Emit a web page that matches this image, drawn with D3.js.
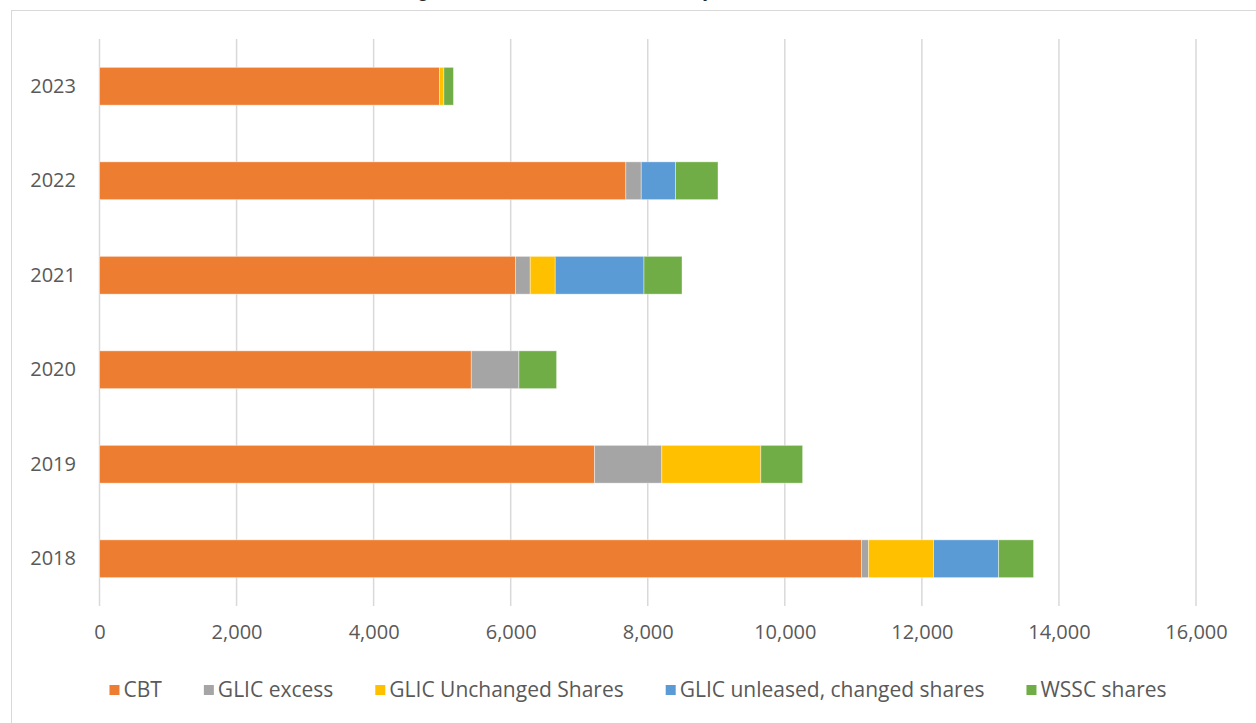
<!DOCTYPE html>
<html>
<head>
<meta charset="utf-8">
<script src="https://cdn.jsdelivr.net/npm/d3@7"></script>
<style>
  html, body { margin: 0; padding: 0; background: #fff; }
  svg { display: block; }
</style>
</head>
<body>
<svg id="chart" width="1256" height="723"></svg>
<script>
// Leased volumes by year, split by source
const years = ["2018", "2019", "2020", "2021", "2022", "2023"];
const cbt           = [11120, 7225, 5425, 6070, 7680, 4960];
const glicExcess    = [100,   980,  695,  215,  225,  0];
const glicUnchanged = [950,   1445, 0,    365,  0,    65];
const glicUnleased  = [950,   0,    0,    1295, 500,  0];
const wssc          = [510,   610,  550,  555,  620,  140];

const seriesNames = ["CBT", "GLIC excess", "GLIC Unchanged Shares", "GLIC unleased, changed shares", "WSSC shares"];
const seriesColors = ["#ED7D31", "#A5A5A5", "#FFC000", "#5B9BD5", "#70AD47"];
const xTicks = [0, 2000, 4000, 6000, 8000, 10000, 12000, 14000, 16000];
const titleText = "Total Leasing Amounts Under Each Share Class by Year";

const seriesValues = [cbt, glicExcess, glicUnchanged, glicUnleased, wssc];
const rows = years.map((yr, i) => {
  const r = { year: yr };
  seriesNames.forEach((name, s) => { r[name] = seriesValues[s][i]; });
  return r;
});

const svg = d3.select("#chart");
const font = "'Open Sans', 'Liberation Sans', sans-serif";
const textColor = "#595959";

// chart frame
svg.append("rect")
  .attr("x", 11.5).attr("y", 10.5)
  .attr("width", 1400).attr("height", 900)
  .attr("fill", "#fff").attr("stroke", "#d9d9d9").attr("stroke-width", 1);

// title (sits above the frame, mostly outside the page)
svg.append("text")
  .attr("x", 538).attr("y", -3)
  .attr("text-anchor", "middle")
  .attr("font-family", font).attr("font-weight", "bold")
  .attr("font-size", 15.7).attr("fill", "#262626")
  .text(titleText);

const plot = { left: 99.5, right: 1196, top: 39, bottom: 606 };

const x = d3.scaleLinear().domain([0, 16000]).range([plot.left, plot.right]);
const y = d3.scaleBand()
  .domain(years.slice().reverse())
  .range([plot.top, plot.bottom])
  .paddingInner(0.6).paddingOuter(0.3);

// vertical gridlines
svg.append("g").selectAll("line").data(xTicks).join("line")
  .attr("x1", d => x(d)).attr("x2", d => x(d))
  .attr("y1", plot.top).attr("y2", plot.bottom)
  .attr("stroke", "#d9d9d9").attr("stroke-width", 1.5);

// stacked bars
const stack = d3.stack().keys(seriesNames)(rows);
const layers = svg.append("g").selectAll("g").data(stack).join("g")
  .attr("fill", (d, i) => seriesColors[i]);
layers.selectAll("rect").data(d => d.filter(p => p[1] - p[0] > 0)).join("rect")
  .attr("x", d => x(d[0]))
  .attr("width", d => x(d[1]) - x(d[0]))
  .attr("y", d => y(d.data.year))
  .attr("height", y.bandwidth())
  .attr("stroke", "#fff").attr("stroke-opacity", 0.5).attr("stroke-width", 0.8);

// x axis labels
const xAxis = d3.axisBottom(x).tickValues(xTicks).tickFormat(d3.format(",")).tickSize(0).tickPadding(0);
const gx = svg.append("g").attr("transform", `translate(0, 625)`).call(xAxis);
gx.select(".domain").remove();
gx.selectAll("text")
  .attr("font-family", font).attr("font-size", 20).attr("fill", textColor)
  .attr("dy", "0.71em");

// y axis labels
const yAxis = d3.axisLeft(y).tickSize(0).tickPadding(0);
const gy = svg.append("g").attr("transform", `translate(76, 0)`).call(yAxis);
gy.select(".domain").remove();
gy.selectAll("text")
  .attr("font-family", font).attr("font-size", 20).attr("fill", textColor);

// legend, laid out left to right and centred
const legend = svg.append("g");
const items = legend.selectAll("g").data(seriesNames).join("g");
items.append("rect")
  .attr("width", 10).attr("height", 10).attr("y", -5)
  .attr("fill", (d, i) => seriesColors[i]);
items.append("text")
  .attr("x", 14).attr("dy", "0.35em")
  .attr("font-family", font).attr("font-size", 21).attr("fill", textColor)
  .text(d => d);
let cursor = 0;
const gap = 42;
items.each(function () {
  const g = d3.select(this);
  g.attr("transform", `translate(${cursor}, 0)`);
  cursor += 14 + g.select("text").node().getComputedTextLength() + gap;
});
const legendWidth = cursor - gap;
legend.attr("transform", `translate(${638 - legendWidth / 2}, 690)`);
</script>
</body>
</html>
